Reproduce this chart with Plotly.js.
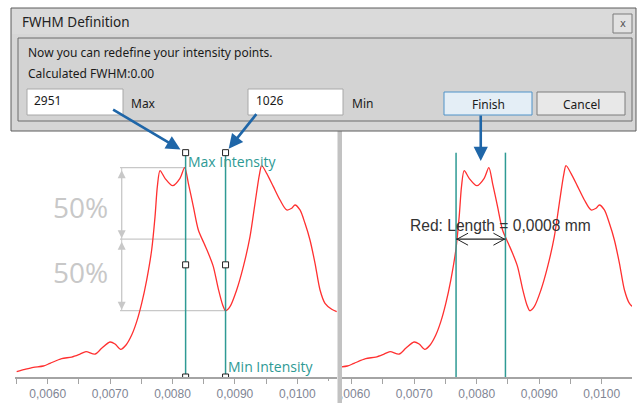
<!DOCTYPE html>
<html><head><meta charset="utf-8">
<script src="https://cdn.plot.ly/plotly-3.0.1.min.js"></script>
<style>html,body{margin:0;padding:0;background:#fff}#chart{width:641px;height:403px}</style>
</head><body><div id="chart"></div>
<script>
// ---- data ----
const positions = [0.005503,0.005636,0.005770,0.005930,0.006037,0.006224,0.006384,0.006518,0.006614,0.006758,0.006865,0.006998,0.007079,0.007169,0.007255,0.007346,0.007426,0.007506,0.007586,0.007666,0.007720,0.007757,0.007800,0.007880,0.008003,0.008120,0.008195,0.008254,0.008334,0.008414,0.008505,0.008574,0.008654,0.008734,0.008804,0.008850,0.008921,0.009028,0.009135,0.009242,0.009322,0.009392,0.009429,0.009509,0.009616,0.009723,0.009830,0.009910,0.009963,0.010043,0.010123,0.010203,0.010284,0.010364,0.010444,0.010551,0.010631];
const intensity = [206,237,264,282,318,381,403,443,475,443,520,605,578,506,565,699,879,1125,1439,1843,2292,2696,2911,2808,2709,2808,2951,2741,2426,2112,1933,1800,1620,1320,1103,1026,1080,1305,1619,2023,2471,2853,2978,2875,2696,2516,2382,2404,2449,2382,2202,1978,1664,1305,1125,1045,1013];
const tickValues = [0.006,0.007,0.008,0.009,0.010];
const tickLabels = ['0,0060','0,0070','0,0080','0,0090','0,0100'];
const minorTickValues = [0.0055,0.0065,0.0075,0.0085,0.0095,0.0105];
const maxIntensity = 2951;
const minIntensity = 1026;
const maxPosition = 0.00821;
const minPosition = 0.00885;
const fwhmLeft = 0.00767;
const fwhmRight = 0.00846;
const fwhmText = '0,0008';
const calculatedFwhm = '0.00';
const halfLevel = (maxIntensity + minIntensity) / 2;

// ---- layout helpers (pixel -> paper) ----
const W = 641, H = 403;
const px = x => x / W;
const py = y => 1 - y / H;
const handleTop = 3153, axisBase = 134, yTop = 3458;
const handleMid = (handleTop + axisBase) / 2;
const guideX0 = 0.007159, guideX = 0.007186, halfGuideEnd = 0.00844;

const RED = '#ff3030', TEAL = '#2e9a94', BLUE = '#1f66a8', GUIDE = '#c8c8c8';
const UI = 'Noto Sans, Open Sans, sans-serif';

const traces = [];
['x','x2'].forEach(ax => traces.push({
  x: positions, y: intensity, xaxis: ax, yaxis: 'y', type: 'scatter', mode: 'lines',
  line: {color: RED, width: 1.3, shape: 'spline', smoothing: 0.8}, hoverinfo: 'skip'
}));
[maxPosition, minPosition].forEach(p => traces.push({
  x: [p, p, p], y: [axisBase, handleMid, handleTop], xaxis: 'x', yaxis: 'y', type: 'scatter',
  mode: 'lines+markers', line: {color: TEAL, width: 1.5},
  marker: {symbol: 'square', size: 6, color: '#fff', line: {color: '#222', width: 1}}, hoverinfo: 'skip'
}));
[fwhmLeft, fwhmRight].forEach(p => traces.push({
  x: [p, p], y: [axisBase, handleTop], xaxis: 'x2', yaxis: 'y', type: 'scatter', mode: 'lines',
  line: {color: TEAL, width: 1.5}, hoverinfo: 'skip'
}));

function xAxis(domain, range) {
  return {
    domain: domain, range: range, anchor: 'y', showgrid: false, zeroline: false,
    showline: true, linecolor: '#a4a4a4', linewidth: 1.5,
    ticks: 'outside', ticklen: 5, tickcolor: '#a4a4a4', tickwidth: 1,
    tickmode: 'array', tickvals: tickValues, ticktext: tickLabels,
    tickfont: {family: 'Liberation Sans, Arial', size: 12, color: '#7f8594'},
    minor: {tickmode: 'array', tickvals: minorTickValues, ticks: 'outside', ticklen: 5, tickcolor: '#a4a4a4', tickwidth: 1},
    fixedrange: true
  };
}

const shapes = [];
const rect = (x0,y0,x1,y1,fill,lc,lw) => shapes.push({type:'rect', xref:'paper', yref:'paper',
  x0:px(x0), x1:px(x1), y0:py(y1), y1:py(y0), fillcolor:fill, line:{color:lc, width: lc ? (lw||1) : 0}, layer:'above'});

// guide lines (left panel)
[[maxIntensity, maxPosition],[halfLevel, halfGuideEnd],[minIntensity, minPosition]].forEach(([lv, xe]) =>
  shapes.push({type:'line', xref:'x', yref:'y', x0:guideX0, x1:xe, y0:lv, y1:lv, line:{color:GUIDE, width:1.3}, layer:'below'}));
shapes.push({type:'line', xref:'x', yref:'y', x0:guideX, x1:guideX, y0:maxIntensity, y1:minIntensity, line:{color:GUIDE, width:1}, layer:'below'});

// FWHM double arrow (right panel)
shapes.push({type:'line', xref:'x2', yref:'y', x0:fwhmLeft, x1:fwhmRight, y0:halfLevel, y1:halfLevel, line:{color:'#222', width:1.3}});
shapes.push({type:'path', xref:'x2', yref:'y', xsizemode:'pixel', ysizemode:'pixel', xanchor:fwhmLeft, yanchor:halfLevel,
  path:'M 12,6 L 1,0 L 12,-6', line:{color:'#222', width:1}});
shapes.push({type:'path', xref:'x2', yref:'y', xsizemode:'pixel', ysizemode:'pixel', xanchor:fwhmRight, yanchor:halfLevel,
  path:'M -12,6 L -1,0 L -12,-6', line:{color:'#222', width:1}});

// separator between panels
rect(326, 381, 338, 403, '#ffffff', null);
rect(337.5, 130, 342, 403, '#c2c2c2', null);

// dialog
rect(11, 8, 636, 131, '#d6d6d6', '#5c5c5c');
rect(12, 9, 635, 34, '#dadada', null);
rect(18, 38, 632, 121, '#d3d3d3', '#6c6c6c');
rect(27, 89, 123, 115, '#ffffff', '#a8a8a8');
rect(248, 89, 343, 115, '#ffffff', '#a8a8a8');
rect(444, 92, 532, 115, '#e4eef6', '#4f92c8');
rect(537, 92, 625, 115, '#e8e8e8', '#7c7c7c');
rect(613, 14, 632, 33, '#e2e2e2', '#7a7a7a');

const ann = [];
const txt = (x, y, t, size, color, anchor, fam) => ann.push({xref:'paper', yref:'paper', x:px(x), y:py(y), text:t,
  showarrow:false, xanchor:anchor||'left', yanchor:'middle', font:{family:fam||UI, size:size, color:color||'#1a1a1a'}});
txt(20, 22, 'FWHM Definition', 13.5, '#222');
txt(622.5, 23.5, 'x', 10, '#555', 'center', 'DejaVu Sans');
txt(26, 52, 'Now you can redefine your intensity points.', 12);
txt(26, 74, 'Calculated FWHM:' + calculatedFwhm, 12);
txt(32, 100.5, String(maxIntensity), 12);
txt(129, 103, 'Max', 12);
txt(254, 100.5, String(minIntensity), 12);
txt(350, 103, 'Min', 12);
txt(488, 104, 'Finish', 12, '#1a1a1a', 'center');
txt(581, 104, 'Cancel', 12, '#1a1a1a', 'center');
txt(80, 207, '50%', 28, GUIDE, 'center', 'Open Sans');
txt(80, 272, '50%', 28, GUIDE, 'center', 'Open Sans');
txt(408, 226, 'Red: Length = ' + fwhmText + ' mm', 15.6, '#333', 'left', 'Liberation Sans, Arial');

ann.push({xref:'x', yref:'paper', x:maxPosition, y:py(161.5), text:'Max Intensity', showarrow:false, xanchor:'left', yanchor:'middle', xshift:0,
  font:{family:'Open Sans', size:14, color:TEAL}});
ann.push({xref:'x', yref:'paper', x:minPosition, y:py(366.5), text:'Min Intensity', showarrow:false, xanchor:'left', yanchor:'middle', xshift:0,
  font:{family:'Open Sans', size:14, color:TEAL}});

// dimension arrows (50 %)
[[maxIntensity, halfLevel],[halfLevel, minIntensity]].forEach(([a, b]) => ann.push({
  xref:'x', yref:'y', x:guideX, y:b, axref:'x', ayref:'y', ax:guideX, ay:a, text:'', showarrow:true,
  arrowside:'end+start', arrowhead:2, startarrowhead:2, arrowsize:1.6, startarrowsize:1.6, arrowwidth:1, arrowcolor:GUIDE,
  standoff:1, startstandoff:1
}));

// blue pointer arrows
const blue = (o) => ann.push(Object.assign({text:'', showarrow:true, arrowhead:2, arrowsize:1.1, arrowwidth:2.6, arrowcolor:BLUE}, o));
blue({xref:'x', yref:'y', x:maxPosition, y:handleTop, ax:-74, ay:-44, standoff:6});
blue({xref:'x', yref:'y', x:minPosition, y:handleTop, ax:32, ay:-40, standoff:5});
blue({xref:'x2', yref:'paper', x:(fwhmLeft + fwhmRight) / 2, y:py(161), ax:0, ay:-47, standoff:0});

const layout = {
  width: W, height: H, margin: {l:0, r:0, t:0, b:0, pad:0},
  paper_bgcolor: '#ffffff', plot_bgcolor: 'rgba(0,0,0,0)', showlegend: false,
  xaxis: xAxis([px(15), px(337)], [0.005476, 0.010636]),
  xaxis2: xAxis([px(341), px(632)], [0.005829, 0.010485]),
  yaxis: {domain: [py(377), py(130)], range: [axisBase, yTop], visible: false, fixedrange: true},
  shapes: shapes, annotations: ann
};
Plotly.newPlot('chart', traces, layout, {staticPlot: true, displayModeBar: false});
</script>
</body></html>
